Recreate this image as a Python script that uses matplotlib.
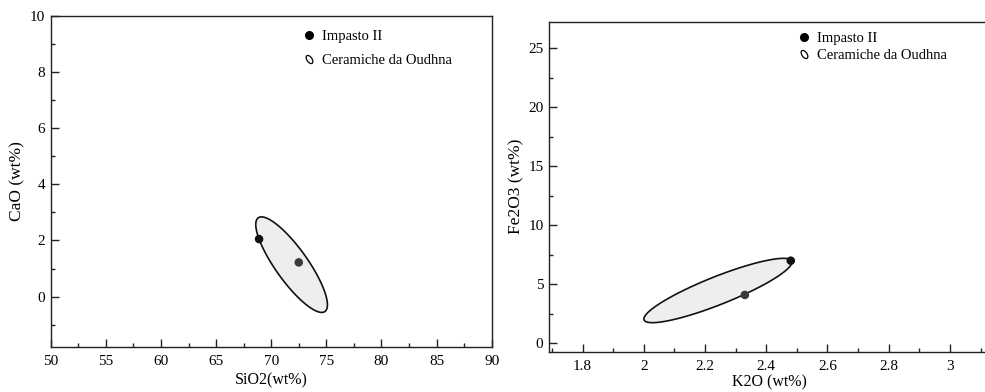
import numpy as np
import matplotlib
matplotlib.use("Agg")
import matplotlib.pyplot as plt
from matplotlib.lines import Line2D
from matplotlib.path import Path
from matplotlib.ticker import MultipleLocator
from matplotlib import transforms

plt.rcParams['font.family'] = ['Liberation Serif', 'DejaVu Serif']

# --- dati: campioni Impasto II ---
SIO2_IMPASTO = [68.9, 72.5]
CAO_IMPASTO = [2.05, 1.22]
K2O_IMPASTO = [2.48, 2.33]
FE2O3_IMPASTO = [7.0, 4.1]
IMPASTO_COLORS = ['#111111', '#3a3a3a']

# --- campo delle ceramiche da Oudhna (centro, semiampiezza, correlazione) ---
OUDHNA_SIO2_CAO_CENTER = [71.85, 1.14]
OUDHNA_SIO2_CAO_HALF = [3.25, 1.70]
OUDHNA_SIO2_CAO_RHO = -0.84

OUDHNA_K2O_FE2O3_CENTER = [2.242, 4.475]
OUDHNA_K2O_FE2O3_HALF = [0.242, 2.725]
OUDHNA_K2O_FE2O3_RHO = 0.884

LABELS = ['Impasto II', 'Ceramiche da Oudhna']


def ellipse_xy(center, half, rho, n=300):
    t = np.linspace(0, 2 * np.pi, n)
    x = center[0] + half[0] * np.cos(t)
    y = center[1] + half[1] * (rho * np.cos(t) + np.sqrt(1 - rho ** 2) * np.sin(t))
    return x, y


def field_marker():
    # piccola ellisse inclinata per la legenda
    circ = Path.unit_circle()
    tr = transforms.Affine2D().scale(0.55, 1.0).rotate_deg(35)
    return tr.transform_path(circ)


def style_axes(ax, xmajor, xminor, ymajor, yminor):
    ax.xaxis.set_major_locator(MultipleLocator(xmajor))
    ax.xaxis.set_minor_locator(MultipleLocator(xminor))
    ax.yaxis.set_major_locator(MultipleLocator(ymajor))
    ax.yaxis.set_minor_locator(MultipleLocator(yminor))
    ax.tick_params(which='both', direction='in', top=False, right=False,
                   width=1.0, color='#222222', labelsize=11)
    ax.tick_params(axis='x', pad=6)
    ax.tick_params(axis='y', pad=4)
    ax.tick_params(which='major', length=5.5)
    ax.tick_params(which='minor', length=3)
    for s in ax.spines.values():
        s.set_linewidth(1.0)
        s.set_color('#222222')


def add_legend(ax, anchor, spacing):
    handles = [
        Line2D([], [], marker='o', color='black', linestyle='None', markersize=5.5),
        Line2D([], [], marker=field_marker(), markerfacecolor='white',
               markeredgecolor='black', markeredgewidth=0.9, linestyle='None', markersize=6),
    ]
    ax.legend(handles, LABELS, loc='upper left', bbox_to_anchor=anchor, frameon=False,
              fontsize=10.5, handlelength=0.8, handletextpad=0.5, labelspacing=spacing,
              borderaxespad=0, borderpad=0)


fig = plt.figure(figsize=(9.85, 3.92), dpi=100)
H = 392.0
W = 985.0

# --- SiO2 vs CaO ---
ax1 = fig.add_axes([50.7 / W, 1 - 346.7 / H, 441.0 / W, 331.0 / H])
x, y = ellipse_xy(OUDHNA_SIO2_CAO_CENTER, OUDHNA_SIO2_CAO_HALF, OUDHNA_SIO2_CAO_RHO)
ax1.fill(x, y, facecolor='#eeeeee', edgecolor='#111111', linewidth=1.2, zorder=2)
ax1.scatter(SIO2_IMPASTO, CAO_IMPASTO, s=38, c=IMPASTO_COLORS, zorder=3, linewidths=0)
ax1.set_xlim(50, 90)
ax1.set_ylim(-1.78, 10)
style_axes(ax1, 5, 2.5, 2, 1)
ax1.set_xlabel('SiO2(wt%)', fontsize=11.5, labelpad=3)
ax1.set_ylabel('CaO (wt%)', fontsize=12.5, labelpad=3)
add_legend(ax1, (0.572, 0.957), 0.75)

# --- K2O vs Fe2O3 ---
ax2 = fig.add_axes([549.0 / W, 1 - 351.7 / H, 441.0 / W, 330.0 / H])
x, y = ellipse_xy(OUDHNA_K2O_FE2O3_CENTER, OUDHNA_K2O_FE2O3_HALF, OUDHNA_K2O_FE2O3_RHO)
ax2.fill(x, y, facecolor='#eeeeee', edgecolor='#111111', linewidth=1.2, zorder=2)
ax2.scatter(K2O_IMPASTO, FE2O3_IMPASTO, s=38, c=IMPASTO_COLORS, zorder=3, linewidths=0)
ax2.set_xlim(1.69, 3.131)
ax2.set_ylim(-0.71, 27.25)
style_axes(ax2, 0.2, 0.1, 5, 2.5)
ax2.xaxis.set_major_formatter(plt.FuncFormatter(lambda v, p: f'{v:g}'))
ax2.set_xlabel('K2O (wt%)', fontsize=11.5, labelpad=1)
ax2.set_ylabel('Fe2O3 (wt%)', fontsize=12.5, labelpad=3)
add_legend(ax2, (0.565, 0.97), 0.3)

fig.savefig('out.png', dpi=100)
